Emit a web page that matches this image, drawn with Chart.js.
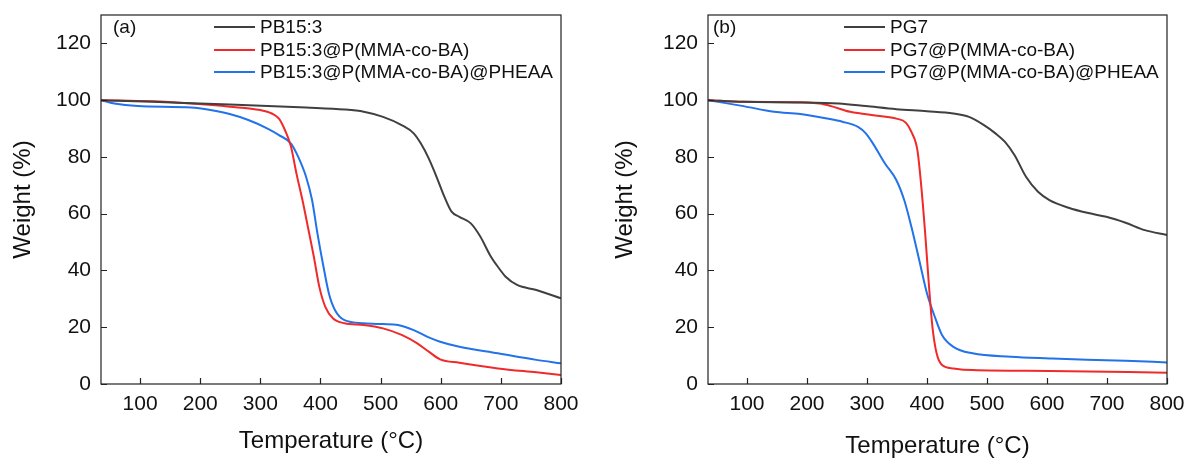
<!DOCTYPE html>
<html>
<head>
<meta charset="utf-8">
<script src="https://cdn.jsdelivr.net/npm/chart.js@4.4.1/dist/chart.umd.min.js"></script>
<style>
  body { margin: 0; background: #fff; }
  .wrap { display: flex; width: 1189px; height: 459px; }
  canvas { display: block; }
</style>
</head>
<body>
<div class="wrap">
  <canvas id="chart-a" width="595" height="459"></canvas>
  <canvas id="chart-b" width="594" height="459"></canvas>
</div>
<script>
// tick labels
const xTicks = [100, 200, 300, 400, 500, 600, 700, 800];
const yTicks = [0, 20, 40, 60, 80, 100, 120];

// (a) PB15:3 series
const pbLabels = ["PB15:3", "PB15:3@P(MMA-co-BA)", "PB15:3@P(MMA-co-BA)@PHEAA"];
const pbTemp = [35, 121, 249, 376, 440, 472, 504, 535, 555, 567, 580, 593, 606, 618, 631, 650, 666, 682, 695, 708, 727, 759, 800];
const pbWeight = [100, 99.4, 98.5, 97.4, 96.7, 95.9, 94.1, 91.2, 88.3, 84.7, 79.5, 73, 66, 60.7, 58.9, 56.6, 51.9, 45.4, 41.3, 37.8, 34.9, 33.1, 30.2];
const pbMbTemp = [35, 121, 185, 249, 300, 319, 331, 341, 351, 360, 370, 379, 389, 398, 408, 421, 440, 472, 504, 535, 561, 580, 599, 631, 695, 759, 800];
const pbMbWeight = [100, 99.6, 98.8, 97.7, 96.5, 95.3, 93.5, 89.4, 83.6, 74.2, 64.8, 55.4, 44.8, 34.3, 27.2, 23.1, 21.4, 20.8, 19.6, 17.3, 14.3, 11.4, 8.7, 7.5, 5.5, 4.1, 3.2];
const pbMbPhTemp = [35, 57, 96, 185, 217, 249, 280, 312, 331, 351, 363, 376, 386, 395, 405, 414, 424, 440, 472, 504, 529, 555, 580, 599, 631, 695, 759, 800];
const pbMbPhWeight = [100, 98.8, 97.9, 97.4, 96.5, 95.1, 93, 90, 87.7, 84.7, 80, 73, 64.8, 53, 41.3, 31.9, 26.1, 22.5, 21.4, 21.1, 20.8, 19, 16.4, 14.9, 13.1, 10.8, 8.5, 7.3];

// (b) PG7 series
const pgLabels = ["PG7", "PG7@P(MMA-co-BA)", "PG7@P(MMA-co-BA)@PHEAA"];
const pgTemp = [35, 94, 189, 253, 298, 349, 400, 444, 470, 495, 514, 530, 546, 565, 585, 604, 636, 667, 699, 731, 763, 800];
const pgWeight = [100, 99.4, 99.2, 98.8, 97.9, 96.8, 96.1, 95.3, 94.1, 91.2, 88.3, 85.3, 80.6, 73, 67.7, 64.8, 62.1, 60.3, 58.9, 56.8, 54.2, 52.5];
const pgMbTemp = [35, 94, 189, 221, 240, 272, 317, 349, 365, 374, 384, 390, 397, 403, 409, 416, 425, 444, 476, 604, 800];
const pgMbWeight = [100, 99.4, 99.3, 98.8, 97.9, 95.9, 94.5, 93.5, 92, 88.8, 82.4, 70.7, 53, 35.4, 20.2, 10.8, 6.7, 5.5, 4.9, 4.6, 4.0];
const pgMbPhTemp = [35, 94, 145, 189, 234, 259, 285, 298, 310, 330, 349, 362, 374, 387, 400, 413, 425, 444, 476, 540, 604, 667, 731, 800];
const pgMbPhWeight = [100, 97.9, 95.9, 95.1, 93.5, 92.4, 90.6, 88.3, 84.7, 77.7, 71.8, 64.8, 55.4, 43.7, 31.9, 23.7, 17.3, 13.1, 10.8, 9.6, 9, 8.5, 8.2, 7.6];

const colors = ["#404040", "#f02a2a", "#2272ea"];
const FONT = "'Liberation Sans', Arial, sans-serif";

function toPoints(xs, ys) {
  return xs.map((x, i) => ({ x: x, y: ys[i] }));
}

// frame, inward ticks, panel tag and legend
const framePlugin = {
  id: "frame",
  afterDraw(chart, args, opts) {
    const { ctx, chartArea: a, scales } = chart;
    ctx.save();
    ctx.strokeStyle = "#222";
    ctx.lineWidth = 1.2;
    ctx.strokeRect(a.left, a.top, a.right - a.left, a.bottom - a.top);
    ctx.beginPath();
    scales.x.ticks.forEach(t => {
      const px = Math.round(scales.x.getPixelForValue(t.value)) + 0.5;
      ctx.moveTo(px, a.bottom);
      ctx.lineTo(px, a.bottom - 6);
    });
    scales.y.ticks.forEach(t => {
      const py = Math.round(scales.y.getPixelForValue(t.value)) + 0.5;
      ctx.moveTo(a.left, py);
      ctx.lineTo(a.left + 6, py);
    });
    ctx.stroke();

    ctx.fillStyle = "#111";
    ctx.textBaseline = "middle";
    ctx.font = "19px " + FONT;
    ctx.fillText(opts.tag, a.left + opts.tagDx, 28);

    const rows = [27, 50, 72];
    chart.data.datasets.forEach((ds, i) => {
      ctx.strokeStyle = ds.borderColor;
      ctx.lineWidth = 2;
      ctx.beginPath();
      ctx.moveTo(opts.legendX, rows[i]);
      ctx.lineTo(opts.legendX + 41, rows[i]);
      ctx.stroke();
      ctx.fillStyle = "#111";
      ctx.fillText(ds.label, opts.legendX + 46, rows[i] + 1);
    });
    ctx.restore();
  }
};

function makeChart(id, labels, series, cfg) {
  const ctx = document.getElementById(id).getContext("2d");
  return new Chart(ctx, {
    type: "line",
    data: {
      datasets: series.map((s, i) => ({
        label: labels[i],
        data: toPoints(s[0], s[1]),
        borderColor: colors[i],
        borderWidth: 2,
        pointRadius: 0,
        cubicInterpolationMode: "monotone",
        fill: false
      }))
    },
    options: {
      responsive: false,
      animation: false,
      layout: { padding: { left: 0, top: 15, right: cfg.padRight, bottom: 0 } },
      plugins: {
        legend: { display: false },
        tooltip: { enabled: false },
        frame: { tag: cfg.tag, tagDx: cfg.tagDx, legendX: cfg.legendX }
      },
      scales: {
        x: {
          type: "linear",
          min: 35,
          max: 800,
          afterBuildTicks: scale => { scale.ticks = xTicks.map(v => ({ value: v })); },
          afterFit: scale => {
            scale.height = 75;
            scale.paddingLeft = 0;
            scale.paddingRight = 0;
          },
          grid: { display: false, drawTicks: false },
          border: { display: false },
          ticks: { padding: 8, color: "#111", font: { family: FONT, size: 21 } },
          title: {
            display: true,
            text: "Temperature (°C)",
            color: "#111",
            font: { family: FONT, size: 24 },
            padding: { top: 0, bottom: cfg.xTitlePad }
          }
        },
        y: {
          min: 0,
          max: 130,
          afterBuildTicks: scale => { scale.ticks = yTicks.map(v => ({ value: v })); },
          afterFit: scale => {
            scale.width = cfg.yWidth;
            scale.paddingTop = 0;
            scale.paddingBottom = 0;
          },
          grid: { display: false, drawTicks: false },
          border: { display: false },
          ticks: { padding: 10, color: "#111", font: { family: FONT, size: 21 } },
          title: {
            display: true,
            text: "Weight (%)",
            color: "#111",
            font: { family: FONT, size: 24 },
            padding: { top: cfg.yTitlePad, bottom: 0 }
          }
        }
      }
    },
    plugins: [framePlugin]
  });
}

makeChart("chart-a", pbLabels, [
  [pbTemp, pbWeight],
  [pbMbTemp, pbMbWeight],
  [pbMbPhTemp, pbMbPhWeight]
], { padRight: 34, yWidth: 101, tag: "(a)", tagDx: 12, legendX: 214, xTitlePad: 3, yTitlePad: 8.5 });

makeChart("chart-b", pgLabels, [
  [pgTemp, pgWeight],
  [pgMbTemp, pgMbWeight],
  [pgMbPhTemp, pgMbPhWeight]
], { padRight: 22, yWidth: 113, tag: "(b)", tagDx: 5, legendX: 249, xTitlePad: -2, yTitlePad: 15.5 });
</script>
</body>
</html>
